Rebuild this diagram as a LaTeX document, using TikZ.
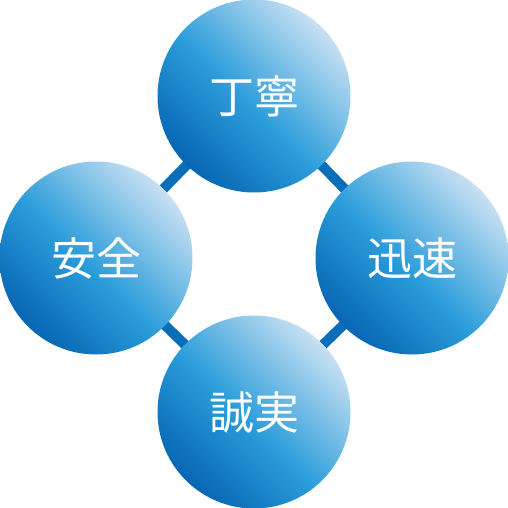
\documentclass[tikz,border=0pt]{standalone}
\usepackage{fontspec}
\newfontfamily\cjk{Noto Sans CJK JP}
\definecolor{dk}{HTML}{0866B4}
\definecolor{md}{HTML}{2A9DDA}
\definecolor{lt}{HTML}{C8E0F3}
\definecolor{ln}{HTML}{0A6DB8}
\pgfdeclareverticalshading{ball}{100bp}{color(0bp)=(dk); color(25bp)=(dk); color(47bp)=(md); color(75bp)=(lt); color(100bp)=(lt)}
\begin{document}
\begin{tikzpicture}[x=1pt,y=-1pt,
  ballnode/.style={circle,minimum size=193pt,inner sep=0pt,shading=ball,shading angle=-45,text=white,font=\cjk\fontsize{45}{45}\selectfont},
  link/.style={ln,line width=10pt}]
\useasboundingbox (0,0) rectangle (508,508);
\coordinate (ct) at (254,96);
\coordinate (cl) at (96,258);
\coordinate (cr) at (412,258);
\coordinate (cb) at (254,412);
\draw[link] (ct) -- (cl);
\draw[link] (ct) -- (cr);
\draw[link] (cb) -- (cl);
\draw[link] (cb) -- (cr);
\node[ballnode] (top) at (ct) {丁寧};
\node[ballnode] (left) at (cl) {安全};
\node[ballnode] (right) at (cr) {迅速};
\node[ballnode] (bottom) at (cb) {誠実};
\end{tikzpicture}
\end{document}
